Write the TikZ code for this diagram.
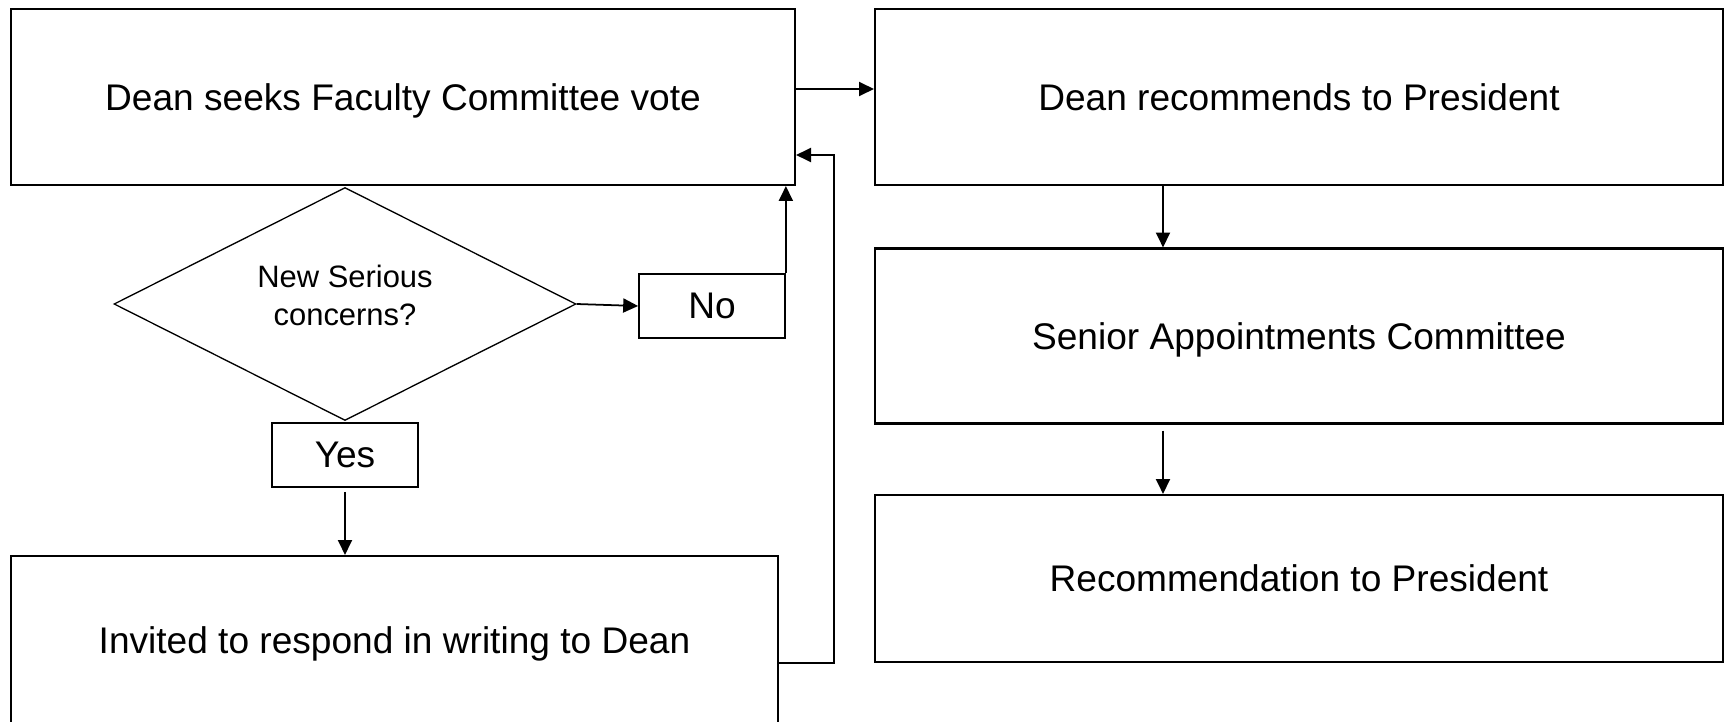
\documentclass[tikz,border=0pt]{standalone}
\usepackage{fontspec}
\setmainfont{Liberation Sans}
\usetikzlibrary{calc, arrows.meta, positioning, shapes.geometric}

\begin{document}
\begin{tikzpicture}[auto, >={Triangle[length=8.5pt, width=8pt]}, line width=1pt]
				\tikzstyle{box} = [draw=black, line width=1.2pt, rectangle, text depth=0pt, font=\fontsize{21.1}{25}\selectfont]
				\tikzstyle{choice} = [draw=black, line width=0.75pt, diamond, shape aspect=2, inner sep=0pt, align=center, text depth=0.36cm, font=\fontsize{17.6}{21.5}\selectfont]
				\tikzstyle{answer} = [draw=black, line width=1pt, rectangle, minimum width=2.92cm, minimum height=1.28cm, font=\fontsize{21.1}{25}\selectfont]
				
				\useasboundingbox (0, 0) rectangle (34.5, 14.42);
				
				\node[box, minimum width=15.68cm, minimum height=3.52cm] 	at (8.06, 12.48) 	(vote) 		{Dean seeks Faculty Committee vote};
				\node[box, minimum width=16.96cm, minimum height=3.52cm] 	at (25.98, 12.48) 	(recommend) {Dean recommends to President};
				\node[box, minimum width=16.96cm, minimum height=3.50cm] 	at (25.98, 7.70) 	(senior) 	{Senior Appointments Committee};
				\node[box, minimum width=16.96cm, minimum height=3.34cm] 	at (25.98, 2.85) 	(result) 	{Recommendation to President};
				\node[box, minimum width=15.34cm, minimum height=3.36cm] 	at (7.89, 1.62) 	(respond) 	{Invited to respond in writing to Dean};
				\node[choice, minimum width=9.24cm, minimum height=4.66cm] 	at (6.90, 8.34) 	(concern) 	{New Serious\\concerns?};
				\node[answer] 	at (14.24, 8.30) 	(no) 	{No};
				\node[answer] 	at (6.90, 5.32) 	(yes) 	{Yes};
				
				\path[->]
				([yshift=0.16cm]vote.east)		edge	([yshift=0.16cm]recommend.west)
				(concern.east)					edge	(no.west)
				([yshift=-0.08cm]yes.south)		edge	(yes.south |- respond.north)
				([xshift=-2.72cm]recommend.south)	edge	([xshift=-2.72cm]senior.north)
				([xshift=-2.72cm, yshift=-0.12cm]senior.south)	edge	([xshift=-2.72cm]result.north);
				
				\draw[->] (no.north east) -- (no.north east |- vote.south);
				\draw[->] ([yshift=-0.46cm]respond.east) -- ++(1.1, 0) |- ([yshift=-1.16cm]vote.east);
				\end{tikzpicture}
\end{document}
